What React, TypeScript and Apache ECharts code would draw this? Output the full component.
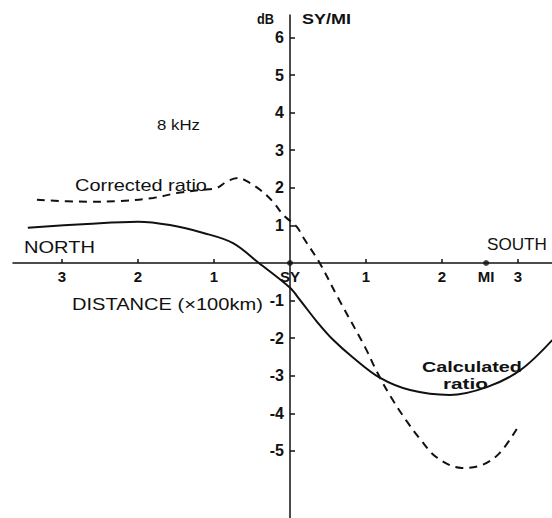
import React, { useEffect, useRef } from "react";
import * as echarts from "echarts";

// Distance in units of 100 km (north negative, south positive), ratio in dB
const calculatedDistance = [-3.45, -2.67, -2.0, -1.58, -1.14, -0.75, -0.41, 0, 0.13, 0.35, 0.57, 0.82, 1.18, 1.58, 2.1, 2.59, 3.03, 3.45];
const calculatedRatio = [0.94, 1.04, 1.1, 1.01, 0.8, 0.53, 0, -0.66, -0.98, -1.55, -2.05, -2.5, -3.05, -3.38, -3.51, -3.3, -2.85, -2.05];

const correctedDistance = [-3.33, -2.67, -2.24, -1.8, -1.49, -1.18, -0.96, -0.83, -0.68, -0.53, -0.39, -0.22, -0.09, 0.09, 0.17, 0.39, 0.63, 0.99, 1.14, 1.32, 1.54, 1.71, 1.93, 2.26, 2.53, 2.76, 2.99];
const correctedRatio = [1.68, 1.63, 1.65, 1.73, 1.86, 1.94, 2.0, 2.17, 2.26, 2.13, 1.94, 1.62, 1.28, 0.96, 0.69, 0, -0.92, -2.25, -2.88, -3.54, -4.22, -4.68, -5.17, -5.45, -5.37, -5.05, -4.39];

const stationNames = ["SY", "MI"];
const stationDistance = [0, 2.58];

const distanceTicks = [-3, -2, -1, 1, 2, 3];
const dbTicks = [-5, -4, -3, -2, -1, 1, 2, 3, 4, 5, 6];

const X_MIN = -3.645;
const X_MAX = 3.447;
const Y_MIN = -6.782;
const Y_MAX = 6.596;

const FONT = "Liberation Sans";
const INK = "#111";

const W = 552;
const H = 518;
const GRID = { left: 13, right: 0, top: 15, bottom: 0 };

type Note = { text: string; x: number; w: number; y: number; size: number; weight: string };

const notes: Note[] = [
  { text: "dB", x: 257, w: 17, y: 19, size: 15, weight: "bold" },
  { text: "SY/MI", x: 302, w: 49, y: 19, size: 15, weight: "bold" },
  { text: "8 kHz", x: 157, w: 43, y: 125, size: 15, weight: "normal" },
  { text: "Corrected ratio", x: 75, w: 132, y: 186, size: 16, weight: "normal" },
  { text: "NORTH", x: 24, w: 71, y: 248, size: 16, weight: "normal" },
  { text: "SOUTH", x: 487, w: 60, y: 245, size: 16, weight: "normal" },
  { text: "DISTANCE (×100km)", x: 72, w: 191, y: 305, size: 16, weight: "normal" },
  { text: "Calculated", x: 422, w: 100, y: 367, size: 15, weight: "bold" },
  { text: "ratio", x: 443, w: 45, y: 384, size: 15, weight: "bold" },
];

function widthOf(text: string, size: number, weight: string): number {
  const ctx = document.createElement("canvas").getContext("2d");
  if (!ctx) return text.length * size * 0.55;
  ctx.font = `${weight} ${size}px "${FONT}"`;
  return ctx.measureText(text).width;
}

export default function App() {
  const ref = useRef<HTMLDivElement>(null);

  useEffect(() => {
    if (!ref.current) return;
    const chart = echarts.init(ref.current, null, { renderer: "svg" });

    const calculated = calculatedDistance.map((d, i) => [d, calculatedRatio[i]]);
    const corrected = correctedDistance.map((d, i) => [d, correctedRatio[i]]);
    const stations = stationDistance.map((d) => [d, 0]);

    // Both axes cross at the origin: shift them from the grid edges to zero
    const gw = W - GRID.left - GRID.right;
    const gh = H - GRID.top - GRID.bottom;
    const zeroY = GRID.top + (gh * Y_MAX) / (Y_MAX - Y_MIN);
    const zeroX = GRID.left + (gw * -X_MIN) / (X_MAX - X_MIN);
    const xOffset = -(H - GRID.bottom - zeroY);
    const yOffset = -(zeroX - GRID.left);

    const graphics = notes.map((n) => ({
      type: "text",
      x: n.x,
      y: n.y,
      scaleX: n.w / widthOf(n.text, n.size, n.weight),
      silent: true,
      style: {
        text: n.text,
        fill: INK,
        fontFamily: FONT,
        fontSize: n.size,
        fontWeight: n.weight,
        textAlign: "left",
        textVerticalAlign: "middle",
      },
    }));

    chart.setOption({
      animation: false,
      backgroundColor: "#fff",
      grid: { ...GRID, containLabel: false, outerBoundsMode: "none" },
      xAxis: {
        type: "value",
        position: "bottom",
        offset: xOffset,
        min: X_MIN,
        max: X_MAX,
        splitLine: { show: false },
        axisLine: { onZero: false, lineStyle: { color: INK, width: 1.5 } },
        axisTick: {
          show: true,
          inside: true,
          length: 4,
          customValues: distanceTicks,
          lineStyle: { color: INK, width: 1.5 },
        },
        axisLabel: {
          customValues: [...distanceTicks, ...stationDistance],
          margin: 6,
          color: INK,
          fontFamily: FONT,
          fontSize: 15,
          fontWeight: "bold",
          formatter: (v: number) => {
            const k = stationDistance.findIndex((d) => Math.abs(d - v) < 0.005);
            if (k >= 0) return stationNames[k];
            return String(Math.abs(Math.round(v)));
          },
        },
      },
      yAxis: {
        type: "value",
        position: "left",
        offset: yOffset,
        min: Y_MIN,
        max: Y_MAX,
        splitLine: { show: false },
        axisLine: { onZero: false, lineStyle: { color: INK, width: 1.5 } },
        axisTick: {
          show: true,
          inside: true,
          length: 5,
          customValues: dbTicks,
          lineStyle: { color: INK, width: 1.5 },
        },
        axisLabel: {
          customValues: dbTicks,
          margin: 6,
          color: INK,
          fontFamily: FONT,
          fontSize: 16,
          fontWeight: "bold",
        },
      },
      series: [
        {
          name: "Calculated ratio",
          type: "line",
          data: calculated,
          smooth: 0.35,
          showSymbol: false,
          lineStyle: { color: INK, width: 2 },
          z: 3,
        },
        {
          name: "Corrected ratio",
          type: "line",
          data: corrected,
          smooth: 0.35,
          showSymbol: false,
          lineStyle: { color: INK, width: 2, type: [8, 6] },
          z: 3,
        },
        {
          name: "Stations",
          type: "scatter",
          data: stations,
          symbolSize: 6,
          itemStyle: { color: INK },
          z: 4,
        },
      ],
      graphic: graphics,
    });

    return () => chart.dispose();
  }, []);

  return (
    <div
      ref={ref}
      style={{ position: "fixed", left: 0, top: 0, width: W, height: H, background: "#fff" }}
    />
  );
}
